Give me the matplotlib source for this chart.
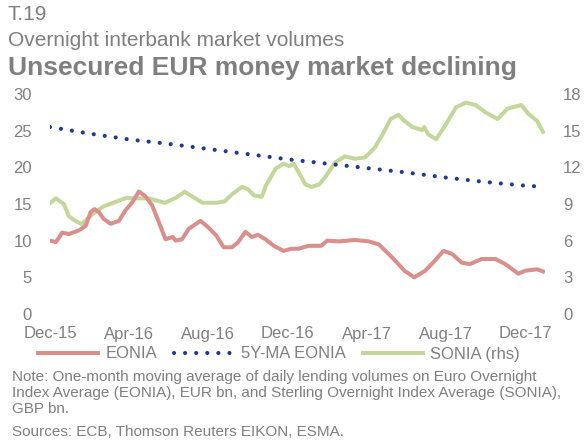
import matplotlib
matplotlib.use("Agg")
import matplotlib.pyplot as plt
from matplotlib.lines import Line2D

# ---- data (months since 1 Dec 2015) ----
eonia_month = [0, 0.3, 0.62, 0.95, 1.46, 1.8, 2.05, 2.25, 2.47, 2.7, 3.06, 3.48, 3.8, 4.15, 4.49, 4.8,
               5.16, 5.5, 5.83, 6.2, 6.35, 6.67, 7.0, 7.6, 8.0, 8.4, 8.77, 9.2, 9.5, 9.87, 10.2, 10.5,
               10.88, 11.3, 11.8, 12.2, 12.56, 13.06, 13.7, 14.0, 14.6, 15.4, 16.1, 16.6, 17.1, 17.6,
               17.9, 18.4, 18.95, 19.45, 19.87, 20.3, 20.8, 21.2, 21.8, 22.5, 23.0, 23.65, 24.0, 24.6, 24.9]
eonia_value = [10.0, 9.8, 11.1, 10.9, 11.4, 12.0, 13.9, 14.3, 13.9, 13.0, 12.3, 12.7, 14.1, 15.2, 16.7, 16.1,
               14.8, 12.5, 10.2, 10.5, 10.0, 10.2, 11.6, 12.7, 11.8, 10.7, 9.1, 9.1, 9.8, 11.2, 10.5, 10.8,
               10.2, 9.3, 8.6, 8.9, 8.9, 9.3, 9.3, 10.0, 9.9, 10.1, 9.9, 9.5, 8.2, 6.8,
               5.9, 5.0, 5.9, 7.3, 8.6, 8.2, 7.0, 6.8, 7.5, 7.5, 6.8, 5.5, 5.9, 6.1, 5.8]

ma_month = [0, 2, 4, 6, 8, 10, 12, 14, 16, 18, 20, 22, 24, 24.6]
ma_value = [25.5, 24.6, 23.8, 23.2, 22.5, 21.8, 21.1, 20.5, 19.9, 19.3, 18.6, 18.0, 17.5, 17.4]

sonia_month = [0, 0.3, 0.7, 0.95, 1.3, 1.6, 1.9, 2.25, 2.7, 3.2, 3.85, 4.35, 5.0, 5.8, 6.35, 6.8, 7.3,
               7.7, 8.4, 8.8, 9.2, 9.7, 10.0, 10.3, 10.7, 10.9, 11.4, 11.8, 12.1, 12.3, 12.56, 12.9,
               13.2, 13.6, 13.9, 14.4, 14.9, 15.4, 15.9, 16.4, 16.8, 17.2, 17.6, 17.9, 18.3, 18.8,
               18.9, 19.1, 19.5, 19.95, 20.5, 21.0, 21.5, 22.0, 22.6, 23.1, 23.8, 24.15, 24.6, 24.9]
sonia_value = [9.08, 9.46, 9.0, 8.0, 7.6, 7.36, 7.8, 8.3, 8.8, 9.1, 9.5, 9.46, 9.46, 9.1, 9.5, 10.0, 9.5,
               9.1, 9.1, 9.2, 9.8, 10.4, 10.2, 9.7, 9.6, 10.5, 11.9, 12.3, 12.1, 12.3, 11.6, 10.6,
               10.4, 10.6, 11.2, 12.4, 12.9, 12.7, 12.8, 13.6, 14.7, 15.95, 16.3, 15.8, 15.3, 15.05,
               15.3, 14.7, 14.3, 15.4, 16.9, 17.3, 17.1, 16.5, 15.95, 16.8, 17.1, 16.4, 15.8, 14.9]

tick_month = [0, 4, 8, 12, 16, 20, 24]
tick_labels = ["Dec-15", "Apr-16", "Aug-16", "Dec-16", "Apr-17", "Aug-17", "Dec-17"]
left_ticks = [0, 5, 10, 15, 20, 25, 30]
right_ticks = [0, 3, 6, 9, 12, 15, 18]

# ---- style ----
plt.rcParams['font.family'] = ['Liberation Sans', 'DejaVu Sans']
GRAY = "#7f7f7f"
RED = "#d98f8c"
GREEN = "#c4d79b"
NAVY = "#1f3a8f"

W, H = 584, 445
fig = plt.figure(figsize=(W / 100, H / 100), dpi=100)
ax = fig.add_axes([50 / W, (H - 314) / H, 495 / W, 220 / H])
ax2 = ax.twinx()

ax.plot(eonia_month, eonia_value, color=RED, lw=2.9, solid_joinstyle='round', zorder=3)
ax.plot(ma_month, ma_value, color=NAVY, lw=3.0, linestyle=(0, (0.01, 2.65)),
        dash_capstyle='round', zorder=4)
ax2.plot(sonia_month, sonia_value, color=GREEN, lw=2.9, solid_joinstyle='round', zorder=3)

ax.set_xlim(0, 25)
ax.set_ylim(0, 30)
ax2.set_ylim(0, 18)
ax.set_xticks(tick_month)
ax.set_xticklabels(tick_labels)
ax.set_yticks(left_ticks)
ax2.set_yticks(right_ticks)

for a in (ax, ax2):
    for s in a.spines.values():
        s.set_visible(False)
    a.tick_params(length=0, labelsize=12, labelcolor=GRAY)
ax.tick_params(axis='y', pad=13)
ax2.tick_params(axis='y', pad=13)
ax.tick_params(axis='x', pad=9)
ax.set_zorder(ax2.get_zorder() + 1)
ax.patch.set_visible(False)

# ---- titles ----
fig.text(8 / W, 1 - 15 / H, "T.19", fontsize=15, color=GRAY, va='center')
fig.text(8 / W, 1 - 40 / H, "Overnight interbank market volumes", fontsize=15, color=GRAY, va='center')
fig.text(8 / W, 1 - 68 / H, "Unsecured EUR money market declining", fontsize=19, color=GRAY,
         fontweight='bold', va='center')

# ---- legend ----
handles = [Line2D([], [], color=RED, lw=2.9),
           Line2D([], [], color=NAVY, lw=3.0, linestyle=(0, (0.01, 2.65)), dash_capstyle='round'),
           Line2D([], [], color=GREEN, lw=2.9)]
leg = fig.legend(handles, ["EONIA", "5Y-MA EONIA", "SONIA (rhs)"], loc='center',
                 bbox_to_anchor=(279 / W, 1 - 354 / H), ncol=3, frameon=False, fontsize=12,
                 handlelength=3.6, handletextpad=0.45, columnspacing=1.0, borderpad=0)
for t in leg.get_texts():
    t.set_color(GRAY)

# ---- notes ----
notes = ["Note: One-month moving average of daily lending volumes on Euro Overnight",
         "Index Average (EONIA), EUR bn, and Sterling Overnight Index Average (SONIA),",
         "GBP bn.",
         ]
for i, line in enumerate(notes):
    fig.text(12 / W, 1 - (377 + 16 * i) / H, line, fontsize=11, color=GRAY, va='center')
fig.text(12 / W, 1 - 432 / H, "Sources: ECB, Thomson Reuters EIKON, ESMA.", fontsize=11,
         color=GRAY, va='center')

fig.savefig("out.png", dpi=100)
